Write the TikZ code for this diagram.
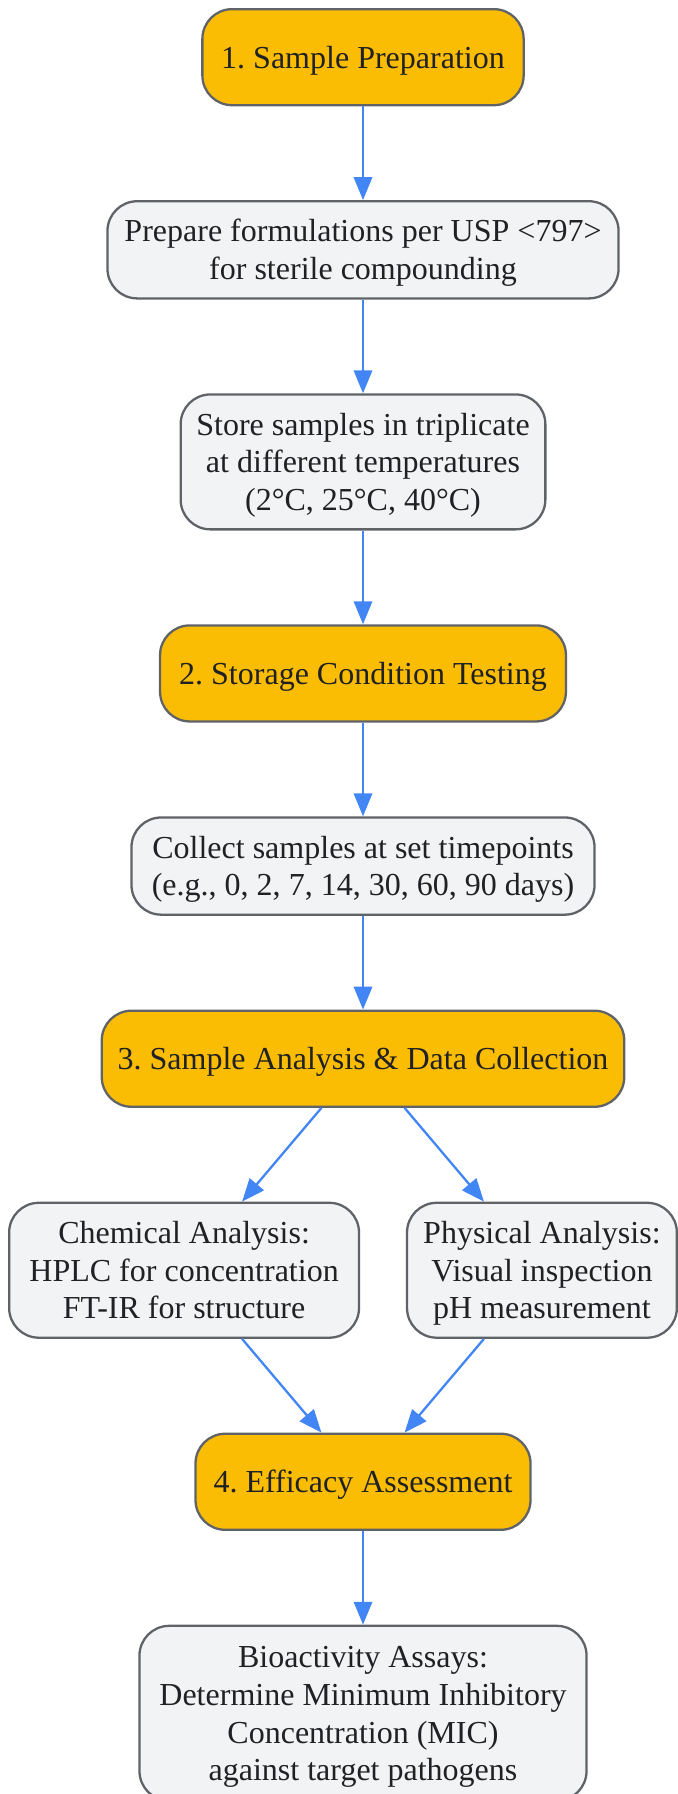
\documentclass[tikz,border=0pt]{standalone}
\usepackage{fontspec}
\setmainfont{Liberation Serif}
\usetikzlibrary{arrows.meta}
\frenchspacing
\newcommand\mytop{\rule{0pt}{28pt}}
\newcommand\mybot{\rule[-9pt]{0pt}{9pt}}
\definecolor{stepfill}{HTML}{FBBC04}
\definecolor{boxfill}{HTML}{F1F3F4}
\definecolor{boxline}{HTML}{5F6368}
\definecolor{arrowblue}{HTML}{4285F4}
\definecolor{txt}{HTML}{202124}
\begin{document}
\begin{tikzpicture}[x=1pt,y=-1pt,
  base/.style={draw=boxline, line width=2pt, rounded corners=26pt, inner sep=0pt,
    align=center, text=txt, font=\fontsize{28}{33}\selectfont},
  stepbox/.style={base, fill=stepfill},
  infobox/.style={base, fill=boxfill},
  conn/.style={draw=arrowblue, line width=2pt, -{Triangle[length=20pt,width=16pt]}}]
\useasboundingbox (0,0) rectangle (593,1569.1);
\node[stepbox, minimum width=281pt, minimum height=84pt] (n1) at (317.5,50) {\mytop 1. Sample Preparation\mybot};
\node[infobox, minimum width=447pt, minimum height=85pt] (n2) at (317.5,218.5) {\mytop Prepare formulations per USP <797>\\for sterile compounding\mybot};
\node[infobox, minimum width=319pt, minimum height=118pt] (n3) at (317.5,404) {\mytop Store samples in triplicate\\at different temperatures\\(2°C, 25°C, 40°C)\mybot};
\node[stepbox, minimum width=355pt, minimum height=84pt] (n4) at (317.5,589) {\mytop 2. Storage Condition Testing\mybot};
\node[infobox, minimum width=405pt, minimum height=85pt] (n5) at (317.5,757.5) {\mytop Collect samples at set timepoints\\(e.g., 0, 2, 7, 14, 30, 60, 90 days)\mybot};
\node[stepbox, minimum width=457pt, minimum height=84pt] (n6) at (317.5,926) {\mytop 3. Sample Analysis \& Data Collection\mybot};
\node[infobox, minimum width=306pt, minimum height=118pt] (n7) at (161,1111) {\mytop Chemical Analysis:\\HPLC for concentration\\FT-IR for structure\mybot};
\node[infobox, minimum width=236pt, minimum height=118pt] (n8) at (474,1111) {\mytop Physical Analysis:\\Visual inspection\\pH measurement\mybot};
\node[stepbox, minimum width=293pt, minimum height=84pt] (n9) at (317.5,1296) {\mytop 4. Efficacy Assessment\mybot};
\node[infobox, minimum width=391pt, minimum height=153pt] (n10) at (317.5,1498.5) {\mytop Bioactivity Assays:\\Determine Minimum Inhibitory\\Concentration (MIC)\\against target pathogens\mybot};
\draw[conn] (n1) -- (n2);
\draw[conn] (n2) -- (n3);
\draw[conn] (n3) -- (n4);
\draw[conn] (n4) -- (n5);
\draw[conn] (n5) -- (n6);
\draw[conn] (n6) -- (n7);
\draw[conn] (n6) -- (n8);
\draw[conn] (n7) -- (n9);
\draw[conn] (n8) -- (n9);
\draw[conn] (n9) -- (n10);
\end{tikzpicture}
\end{document}
